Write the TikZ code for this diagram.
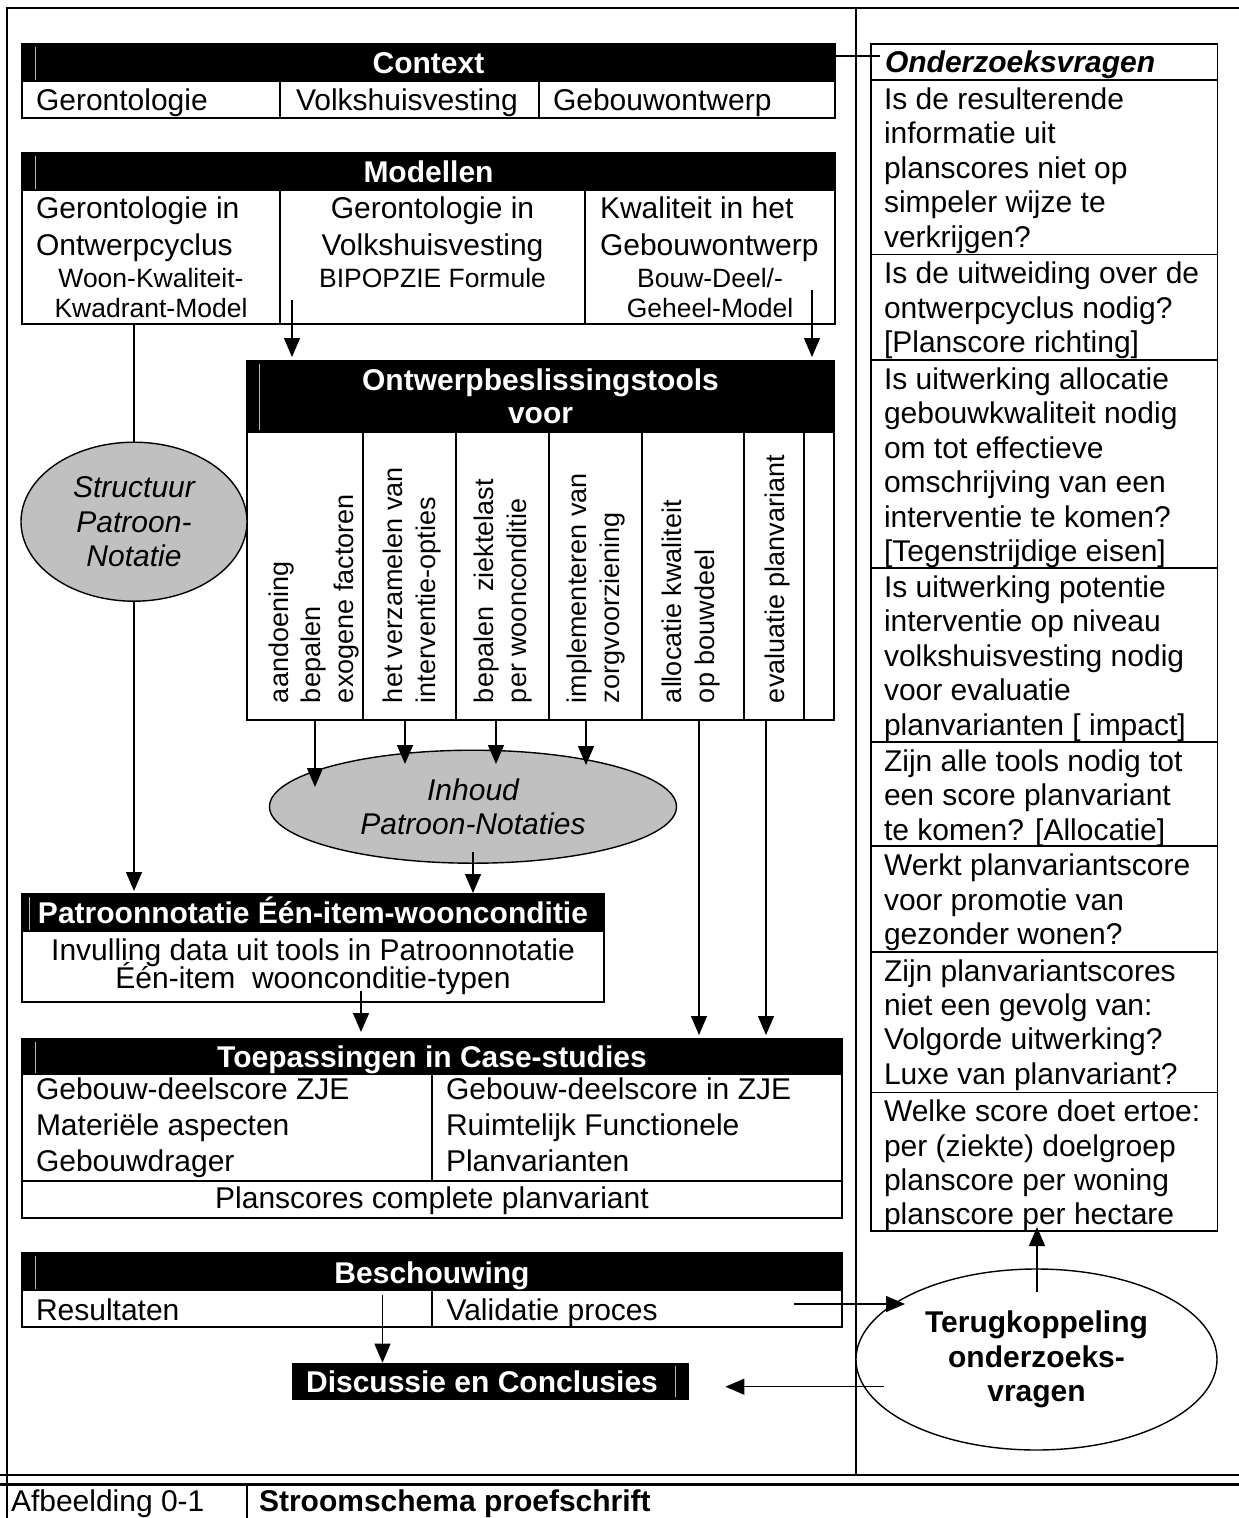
\documentclass[tikz,border=0pt]{standalone}
\usepackage{fontspec}
\setmainfont{Liberation Sans}
\usetikzlibrary{arrows.meta,shapes.geometric,calc}
\definecolor{blobgrey}{RGB}{192,192,192}
\begin{document}
\begin{tikzpicture}[x=1pt,y=-1pt,
  every node/.style={inner sep=0pt,outer sep=0pt},
  t30/.style={font=\fontsize{30}{34.4}\selectfont},
  b30/.style={font=\fontsize{30}{34.4}\selectfont\bfseries},
  it30/.style={font=\fontsize{30}{34.4}\selectfont\itshape},
  t26/.style={font=\fontsize{26.5}{30}\selectfont},
  tv/.style={font=\fontsize{27}{32.7}\selectfont, rotate=90, anchor=north west, align=left},
  hd/.style={font=\fontsize{30}{34.4}\selectfont\bfseries, text=white},
  qtext/.style={font=\fontsize{30}{34.4}\selectfont, align=left, anchor=north west},
  box/.style={draw, line width=2pt, anchor=north west},
  rule/.style={line width=2pt},
  thin/.style={line width=1.6pt},
  seam/.style={gray!55, line width=0.9pt},
  bar/.style={fill=black},
  link/.style={line width=1.4pt},
  arr/.style={line width=1.4pt, -{Triangle[length=19pt,width=16pt]}},
  blob/.style={ellipse, draw, line width=1.4pt, fill=blobgrey, align=center},
]
\useasboundingbox (0,0) rectangle (1239,1518);
\fill[white] (0,0) rectangle (1239,1518);

% page frame and caption row
\draw[rule] (1239,8) -- (7,8) -- (7,1518);
\draw[rule] (856,8) -- (856,1475);
\draw[line width=2.4pt] (0,1475) -- (1239,1475);
\draw[line width=2.4pt] (0,1484.5) -- (1239,1484.5);
\draw[rule] (247,1484.5) -- (247,1518);
\node[t30, anchor=base west] (capnum) at (11,1511.5) {Afbeelding 0-1};
\node[b30, anchor=base west] (captxt) at (259,1511.5) {Stroomschema proefschrift};

% Context
\fill[bar] (22,44) rectangle (835,82);
\draw[seam] (35.6,47) -- (35.6,80);
\node[box, minimum width=813pt, minimum height=74pt] (ctx) at (22,44) {};
\draw[rule] (280,82) -- (280,118);
\draw[rule] (538.5,82) -- (538.5,118);
\node[hd, anchor=base] (ctxT) at (428.5,73) {Context};
\node[t30, anchor=base west] (ctx1) at (36,110) {Gerontologie};
\node[t30, anchor=base west] (ctx2) at (296,110) {Volkshuisvesting};
\node[t30, anchor=base west] (ctx3) at (553,110) {Gebouwontwerp};

% Modellen
\fill[bar] (22,153) rectangle (835,191);
\draw[seam] (35.6,156) -- (35.6,189);
\node[box, minimum width=813pt, minimum height=171pt] (mod) at (22,153) {};
\draw[rule] (280,191) -- (280,324);
\draw[rule] (585,191) -- (585,324);
\node[hd, anchor=base] (modT) at (428.5,182) {Modellen};
\node[t30, anchor=base west] (m1a) at (36,218) {Gerontologie in};
\node[t30, anchor=base west] (m1b) at (36,255) {Ontwerpcyclus};
\node[t26, anchor=base] (m1c) at (151,287) {Woon-Kwaliteit-};
\node[t26, anchor=base] (m1d) at (151,317) {Kwadrant-Model};
\node[t30, anchor=base] (m2a) at (432.5,218) {Gerontologie in};
\node[t30, anchor=base] (m2b) at (432.5,255) {Volkshuisvesting};
\node[t26, anchor=base] (m2c) at (432.5,287) {BIPOPZIE Formule};
\node[t30, anchor=base west] (m3a) at (600,218) {Kwaliteit in het};
\node[t30, anchor=base west] (m3b) at (600,255) {Gebouwontwerp};
\node[t26, anchor=base] (m3c) at (710,287) {Bouw-Deel/-};
\node[t26, anchor=base] (m3d) at (710,317) {Geheel-Model};

% Ontwerpbeslissingstools
\fill[bar] (247,361) rectangle (834,433);
\draw[seam] (259.6,364) -- (259.6,430);
\node[box, minimum width=587pt, minimum height=359pt] (ontw) at (247,361) {};
\foreach \xx in {362.9,456.2,548.7,642,744,804}
  \draw[rule] (\xx,433) -- (\xx,720);
\node[hd, anchor=base] (ontwT1) at (540.5,390) {Ontwerpbeslissingstools};
\node[hd, anchor=base] (ontwT2) at (540.5,423) {voor};
\node[tv] (v1) at (265.4,703) {\strut aandoening\\bepalen\\exogene factoren};
\node[tv] (v2) at (380,703) {\strut het verzamelen van\\interventie-opties};
\node[tv] (v3) at (471,703) {\strut bepalen\ \ ziektelast\\per woonconditie};
\node[tv] (v4) at (564,703) {\strut implementeren van\\zorgvoorziening};
\node[tv] (v5) at (658.8,703) {\strut allocatie kwaliteit\\op bouwdeel};
\node[tv] (v6) at (761.7,703) {\strut evaluatie planvariant};

% Patroonnotatie
\fill[bar] (22,894) rectangle (604,932);
\draw[seam] (29.7,897) -- (29.7,930);
\node[box, minimum width=582pt, minimum height=108pt] (pat) at (22,894) {};
\node[hd, anchor=base] (patT) at (313,923) {Patroonnotatie Één-item-woonconditie};
\node[t30, anchor=base] (pat1) at (313,960) {Invulling data uit tools in Patroonnotatie};
\node[t30, anchor=base] (pat2) at (313,988) {Één-item\ \ woonconditie-typen};

% Toepassingen
\fill[bar] (22,1039) rectangle (842,1075);
\draw[seam] (35.6,1042) -- (35.6,1073);
\node[box, minimum width=820pt, minimum height=179pt] (toep) at (22,1039) {};
\draw[rule] (432,1075) -- (432,1181);
\draw[rule] (22,1181) -- (842,1181);
\node[hd, anchor=base] (toepT) at (432,1067) {Toepassingen in Case-studies};
\node[t30, anchor=base west] (tp1) at (36,1099) {Gebouw-deelscore ZJE};
\node[t30, anchor=base west] (tp2) at (36,1135) {Materiële aspecten};
\node[t30, anchor=base west] (tp3) at (36,1171.5) {Gebouwdrager};
\node[t30, anchor=base west] (tp4) at (446,1099) {Gebouw-deelscore in ZJE};
\node[t30, anchor=base west] (tp5) at (446,1135) {Ruimtelijk Functionele};
\node[t30, anchor=base west] (tp6) at (446,1171.5) {Planvarianten};
\node[t30, anchor=base] (tp7) at (432,1208) {Planscores complete planvariant};

% Beschouwing
\fill[bar] (22,1253) rectangle (842,1291);
\draw[seam] (35.6,1256) -- (35.6,1289);
\node[box, minimum width=820pt, minimum height=74pt] (besch) at (22,1253) {};
\draw[rule] (431.5,1291) -- (431.5,1327);
\node[hd, anchor=base] (beschT) at (432,1283) {Beschouwing};
\node[t30, anchor=base west] (bs1) at (36,1320) {Resultaten};
\node[t30, anchor=base west] (bs2) at (446.5,1320) {Validatie proces};

% Discussie en Conclusies
\node[fill=black, anchor=north west, minimum width=396.6pt, minimum height=37.3pt] (disc) at (292.4,1362.7) {};
\draw[seam] (675.6,1366) -- (675.6,1397);
\node[hd, anchor=base] (discT) at (482,1392) {Discussie en Conclusies};

% Onderzoeksvragen column
\node[draw, line width=1.6pt, anchor=north west, minimum width=346.6pt, minimum height=1186.7pt] (qv) at (870.7,44) {};
\foreach \yy in {80,254.3,360,568,742,846.2,951.7,1092.3}
  \draw[thin] (870.7,\yy) -- (1217.3,\yy);
\node[font=\fontsize{30}{34.4}\selectfont\bfseries\itshape, anchor=base west] (qvT) at (885,72) {Onderzoeksvragen};
\node[qtext] (q1) at (884,85.4) {\strut Is de resulterende\\informatie uit\\planscores niet op\\simpeler wijze te\\verkrijgen?};
\node[qtext] (q2) at (884,259.7) {\strut Is de uitweiding over de\\ontwerpcyclus nodig?\\{[Planscore richting]}};
\node[qtext] (q3) at (884,365.4) {\strut Is uitwerking allocatie\\gebouwkwaliteit nodig\\om tot effectieve\\omschrijving van een\\interventie te komen?\\{[Tegenstrijdige eisen]}};
\node[qtext] (q4) at (884,573.4) {\strut Is uitwerking potentie\\interventie op niveau\\volkshuisvesting nodig\\voor evaluatie\\planvarianten [ impact]};
\node[qtext] (q5) at (884,747.4) {\strut Zijn alle tools nodig tot\\een score planvariant\\te komen? [Allocatie]};
\node[qtext] (q6) at (884,851.6) {\strut Werkt planvariantscore\\voor promotie van\\gezonder wonen?};
\node[qtext] (q7) at (884,957.1) {\strut Zijn planvariantscores\\niet een gevolg van:\\Volgorde uitwerking?\\Luxe van planvariant?};
\node[qtext] (q8) at (884,1097.7) {\strut Welke score doet ertoe:\\per (ziekte) doelgroep\\planscore per woning\\planscore per hectare};

% ellipses
\node[blob, it30, minimum width=226pt, minimum height=159pt] (str) at (134,521.7) {Structuur\\Patroon-\\Notatie};
\node[blob, it30, minimum width=407pt, minimum height=113pt] (inh) at (473,806.7) {Inhoud\\Patroon-Notaties};
\node[blob, b30, fill=white, minimum width=361pt, minimum height=181pt] (terug) at (1036.5,1359.5) {Terugkoppeling\\onderzoeks-\\vragen};

% connector end points
\coordinate (ma) at (292,300);
\coordinate (mb) at (812,290);
\coordinate (t1) at (315,720);
\coordinate (t2) at (405,720);
\coordinate (t3) at (496,720);
\coordinate (t4) at (586,720);
\coordinate (t5) at (699,720);
\coordinate (t6) at (766,720);
\coordinate (i1) at (315,787);
\coordinate (i2) at (405,764);
\coordinate (i3) at (496,764);
\coordinate (i4) at (586,765);
\coordinate (ps) at (361,991);
\coordinate (rs) at (382.5,1295);
\coordinate (vs) at (794,1304);
\coordinate (ve) at (905,1304);
\coordinate (ts) at (883.5,1386.7);
\coordinate (te) at (725.4,1386.7);
\coordinate (us) at (1037,1292);
\coordinate (ue) at (1037,1227);
\coordinate (qin) at (880,56);

% connectors
\draw[link] (ctx.north east |- qin) -- (qin);
\draw[arr, shorten >=4pt] (ma) -- (ma |- ontw.north);
\draw[arr, shorten >=4pt] (mb) -- (mb |- ontw.north);
\draw[link] (mod.south -| str.north) -- (str.north);
\draw[arr, shorten >=3pt] (str.south) -- (str.south |- pat.north);
\draw[arr] (t1) -- (i1);
\draw[arr] (t2) -- (i2);
\draw[arr] (t3) -- (i3);
\draw[arr] (t4) -- (i4);
\draw[arr, shorten >=1pt] ($(inh.south)+(0,-11)$) -- (inh.south |- pat.north);
\draw[arr, shorten >=4pt] (t5) -- (t5 |- toep.north);
\draw[arr, shorten >=4pt] (t6) -- (t6 |- toep.north);
\draw[arr, shorten >=7pt] (ps) -- (ps |- toep.north);
\draw[arr] (rs) -- (rs |- disc.north);
\draw[arr] (vs) -- (ve);
\draw[arr] (ts) -- (te);
\draw[arr] (us) -- (ue);
\end{tikzpicture}
\end{document}
